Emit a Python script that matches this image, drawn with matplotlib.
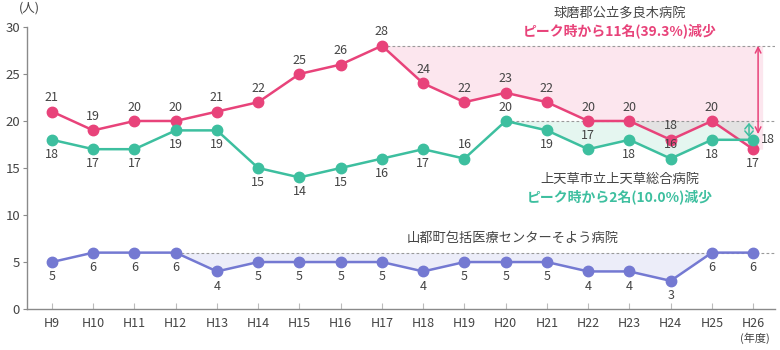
import numpy as np
import matplotlib
matplotlib.use("Agg")
import matplotlib.pyplot as plt

plt.rcParams['font.family'] = ['Noto Sans CJK JP', 'DejaVu Sans']

# データ
nendo = ['H9', 'H10', 'H11', 'H12', 'H13', 'H14', 'H15', 'H16', 'H17',
         'H18', 'H19', 'H20', 'H21', 'H22', 'H23', 'H24', 'H25', 'H26']
taragi = [21, 19, 20, 20, 21, 22, 25, 26, 28, 24, 22, 23, 22, 20, 20, 18, 20, 17]
kamiamakusa = [18, 17, 17, 19, 19, 15, 14, 15, 16, 17, 16, 20, 19, 17, 18, 16, 18, 18]
soyou = [5, 6, 6, 6, 4, 5, 5, 5, 5, 4, 5, 5, 5, 4, 4, 3, 6, 6]

# ラベル位置 (u=上, d=下, r=右)
pos_taragi = ['u'] * 17 + ['d']
pos_kami = ['d', 'd', 'd', 'd', 'd', 'd', 'd', 'd', 'd', 'd', 'u', 'u', 'd', 'u', 'd', 'u', 'd', 'r']
pos_soyou = ['d'] * 18

PINK = '#E8437A'
TEAL = '#3DBF9F'
PURPLE = '#7479D2'
TXT = '#444444'
GRIS = '#9a9a9a'

fig = plt.figure(figsize=(7.8, 3.5), dpi=100)
ax = fig.add_axes([0.0346, 0.117, 0.959, 0.806])

x = np.arange(len(nendo))
ax.set_xlim(-0.606, 17.53)
ax.set_ylim(0, 30)

# 塗りつぶし (ピークからの減少)
def sombra(valores, color, alpha, ext=0.0):
    v = np.array(valores, dtype=float)
    i = int(np.argmax(v))
    xs = x[i:].astype(float)
    ys = v[i:]
    if ext:
        xs = np.append(xs, xs[-1] + ext)
        ys = np.append(ys, ys[-1])
    ax.fill_between(xs, ys, v[i], color=color, alpha=alpha, lw=0, zorder=1)
    ax.plot([x[i], 17.53], [v[i], v[i]], color=GRIS, lw=0.8, ls=(0, (2.5, 2)), zorder=2)
    return i

sombra(taragi, '#F7A8C4', 0.28, ext=0.23)
sombra(kamiamakusa, '#7FD4B6', 0.2)
# 山都町: H12 の 6 から H25 まで
i0 = 3
ax.fill_between(x[i0:17], soyou[i0:17], soyou[i0], color='#C9CCF0', alpha=0.35, lw=0, zorder=1)
ax.plot([x[i0], 17.53], [soyou[i0], soyou[i0]], color=GRIS, lw=0.8, ls=(0, (2.5, 2)), zorder=2)

for serie, color, posiciones in [(taragi, PINK, pos_taragi),
                                 (kamiamakusa, TEAL, pos_kami),
                                 (soyou, PURPLE, pos_soyou)]:
    ax.plot(x, serie, color=color, lw=1.8, marker='o', markersize=7.5, zorder=4)
    for xi, v, p in zip(x, serie, posiciones):
        if p == 'u':
            off, ha = (0, 10), 'center'
        elif p == 'd':
            off, ha = (0, -10.5), 'center'
        else:
            off, ha = (5.5, 0), 'left'
        ax.annotate(str(v), (xi, v), xytext=off, textcoords='offset points',
                    ha=ha, va='center', fontsize=9, color=TXT, zorder=5)

# 矢印
ax.annotate('', xy=(17.12, max(taragi)), xytext=(17.12, 18.6),
            arrowprops=dict(arrowstyle='<->', color=PINK, lw=1.1, shrinkA=0, shrinkB=0))
ax.annotate('', xy=(16.9, max(kamiamakusa) - 0.2), xytext=(16.9, 18.3),
            arrowprops=dict(arrowstyle='<->,head_length=0.35,head_width=0.3', color=TEAL,
                            lw=1.1, shrinkA=0, shrinkB=0, mutation_scale=10))

# 注記
ax.text(13.77, 31.5, '球磨郡公立多良木病院', ha='center', va='center', fontsize=9.5, color=TXT)
ax.text(13.77, 29.6, 'ピーク時から11名(39.3%)減少', ha='center', va='center',
        fontsize=10, color=PINK, fontweight='bold')
ax.text(13.77, 13.8, '上天草市立上天草総合病院', ha='center', va='center', fontsize=9.5, color=TXT)
ax.text(13.77, 11.9, 'ピーク時から2名(10.0%)減少', ha='center', va='center',
        fontsize=10, color=TEAL, fontweight='bold')
ax.text(11.18, 7.55, '山都町包括医療センターそよう病院', ha='center', va='center',
        fontsize=9.5, color=TXT)

ax.text(-0.3, 32.0, '(人)', ha='right', va='center', fontsize=9, color=TXT)
ax.text(17.05, -3.1, '(年度)', ha='center', va='center', fontsize=8, color=TXT)

# 軸
ax.set_xticks(x)
ax.set_xticklabels(nendo)
ax.set_yticks([0, 5, 10, 15, 20, 25, 30])
for s in ['top', 'right']:
    ax.spines[s].set_visible(False)
for s in ['left', 'bottom']:
    ax.spines[s].set_color('#8a8a8a')
    ax.spines[s].set_linewidth(1.0)
ax.tick_params(axis='x', direction='in', length=4, colors='#bbbbbb', labelcolor=TXT,
               labelsize=9, pad=6)
ax.tick_params(axis='y', direction='out', length=3, colors='#8a8a8a', labelcolor=TXT,
               labelsize=9.5, pad=2)

fig.savefig('out.png', dpi=100)
